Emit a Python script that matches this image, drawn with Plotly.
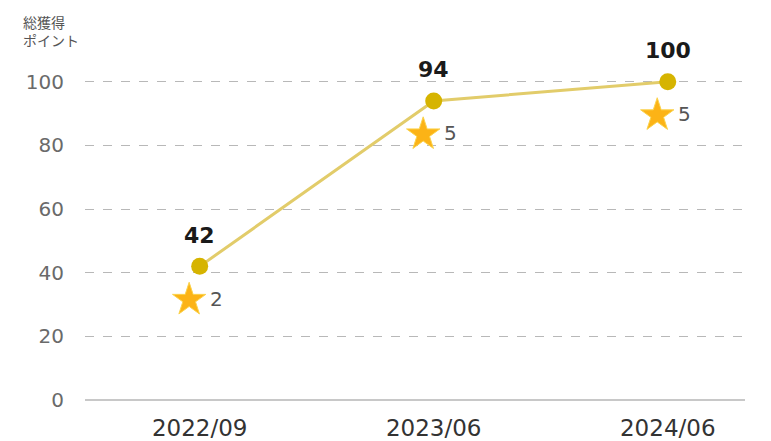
import plotly.graph_objects as go

categories = ["2022/09", "2023/06", "2024/06"]
points = [42, 94, 100]
stars = [2, 5, 5]
y_ticks = [0, 20, 40, 60, 80, 100]

FONT = "DejaVu Sans"
JFONT = "Noto Sans CJK JP"
xs = list(range(len(categories)))
star_x = [i - 0.045 for i in xs]
star_y = [v - 10.5 for v in points]

fig = go.Figure()
fig.add_trace(go.Scatter(
    x=xs, y=points, mode="lines+markers",
    line=dict(color="#e2cc6a", width=3),
    marker=dict(color="#d6b400", size=17),
    cliponaxis=False, hoverinfo="skip", showlegend=False,
))
fig.add_trace(go.Scatter(
    x=star_x, y=star_y, mode="markers",
    marker=dict(symbol="star", color="#fcb316", size=25, line=dict(width=1, color="#fbd34c")),
    cliponaxis=False, hoverinfo="skip", showlegend=False,
))

annotations = []
for x, v in zip(xs, points):
    annotations.append(dict(
        x=x, y=v, xref="x", yref="y", text="<b>%d</b>" % v, showarrow=False,
        yshift=31, font=dict(family=FONT, size=22, color="#1a1a1a"),
    ))
for x, y, s in zip(star_x, star_y, stars):
    annotations.append(dict(
        x=x, y=y, xref="x", yref="y", text=str(s), showarrow=False,
        xanchor="left", xshift=19, yshift=1, font=dict(family=FONT, size=20, color="#555555"),
    ))
annotations.append(dict(
    text="総獲得<br>ポイント", x=-0.097, y=1.115, xref="paper", yref="paper",
    xanchor="left", yanchor="top", showarrow=False, align="left",
    font=dict(family=JFONT, size=14, color="#555555"),
))

fig.update_layout(
    width=763, height=433,
    margin=dict(l=77, r=26, t=42, b=41),
    paper_bgcolor="white", plot_bgcolor="white",
    font=dict(family=FONT),
    xaxis=dict(
        range=[-0.49, 2.33], tickvals=xs, ticktext=categories,
        showgrid=False, zeroline=False, showline=False, automargin=False,
        tickfont=dict(family=FONT, size=23, color="#333333"),
        ticks="", ticklabelstandoff=12,
    ),
    yaxis=dict(
        range=[0, 110], tickvals=y_ticks, automargin=False,
        showgrid=True, gridcolor="#b8b8b8", griddash="dash", gridwidth=1,
        zeroline=True, zerolinecolor="#c8c8c8", zerolinewidth=2,
        showline=False,
        tickfont=dict(family=FONT, size=20, color="#6a6a6a"),
        ticks="", ticklabelstandoff=20,
    ),
    annotations=annotations,
)
fig.write_html("out.html")
